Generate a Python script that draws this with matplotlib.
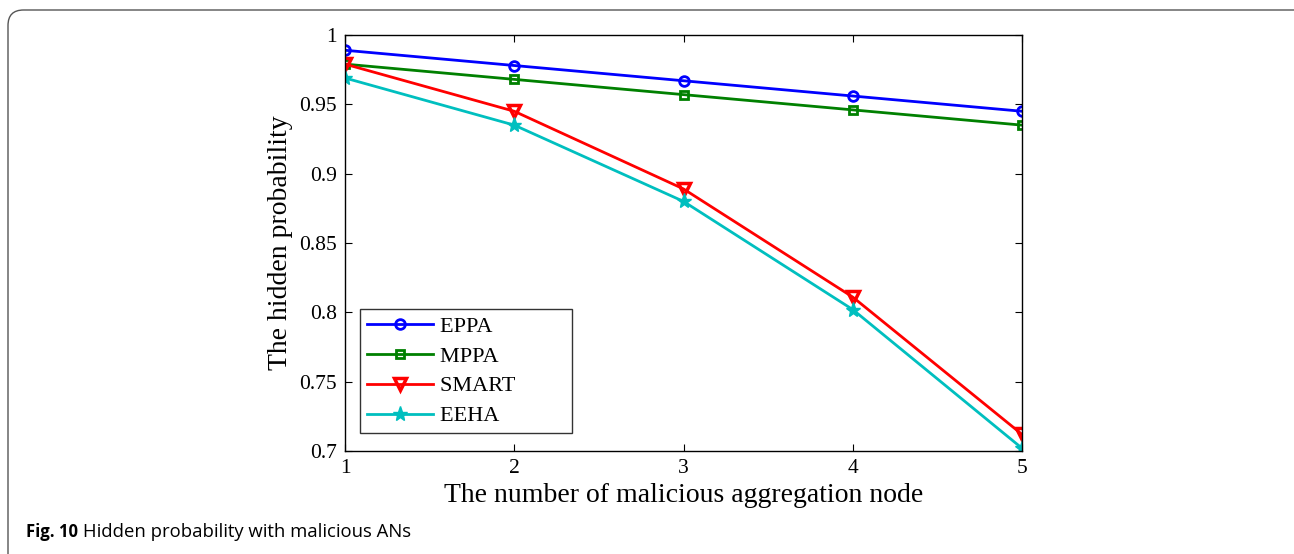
import matplotlib
matplotlib.use("Agg")
import matplotlib.pyplot as plt
from matplotlib.patches import FancyBboxPatch

# Data
x_nodes = [1, 2, 3, 4, 5]
eppa = [0.989, 0.978, 0.967, 0.956, 0.945]
mppa = [0.979, 0.968, 0.957, 0.946, 0.935]
smart = [0.979, 0.945, 0.889, 0.811, 0.712]
eeha = [0.969, 0.935, 0.880, 0.802, 0.702]
y_ticks = [0.7, 0.75, 0.8, 0.85, 0.9, 0.95, 1.0]
y_tick_labels = ["0.7", "0.75", "0.8", "0.85", "0.9", "0.95", "1"]

W, H = 1294, 554
fig = plt.figure(figsize=(W / 100, H / 100), dpi=100)

# rounded frame around the figure panel
frame = FancyBboxPatch((8 / W, -20 / H), (W + 10) / W, (H + 10) / H,
                       boxstyle="round,pad=0,rounding_size=0.012",
                       transform=fig.transFigure, fill=False,
                       edgecolor="#555555", linewidth=1.0, mutation_aspect=W / H)
fig.patches.append(frame)

ax = fig.add_axes([345 / W, 1 - 451 / H, (1022 - 345) / W, (451 - 35) / H])

serif = "Liberation Serif"
lw = 2.0
pad = " " * 9  # legend box in the original has blank room on the right
ax.plot(x_nodes, eppa, color="#0000ff", marker="o", ms=7, mfc="none", mew=2, lw=lw, label="EPPA" + pad)
ax.plot(x_nodes, mppa, color="#008000", marker="s", ms=6, mfc="none", mew=2, lw=lw, label="MPPA" + pad)
ax.plot(x_nodes, smart, color="#ff0000", marker="v", ms=9, mfc="none", mew=2.5, lw=lw, label="SMART" + pad)
ax.plot(x_nodes, eeha, color="#00bfbf", marker="*", ms=11, mew=1, lw=lw, label="EEHA" + pad)

ax.set_xlim(1, 5)
ax.set_ylim(0.7, 1.0)
ax.set_xticks(x_nodes)
ax.set_xticklabels([str(v) for v in x_nodes], fontfamily=serif, fontsize=15.5)
ax.set_yticks(y_ticks)
ax.set_yticklabels(y_tick_labels, fontfamily=serif, fontsize=15.5)
ax.tick_params(direction="in", length=5, width=0.8, top=True, right=True, pad=6)
for s in ax.spines.values():
    s.set_linewidth(1.0)

ax.set_xlabel("The number of malicious aggregation node", fontfamily=serif, fontsize=20, labelpad=3)
ax.set_ylabel("The hidden probability", fontfamily=serif, fontsize=20, labelpad=4)

leg = ax.legend(loc="lower left", bbox_to_anchor=(15 / 677, 18 / 416), prop={"family": serif, "size": 16},
                frameon=True, fancybox=False, edgecolor="black", handlelength=3.0,
                handletextpad=0.3, borderpad=0.3, labelspacing=0.42, borderaxespad=0)
leg.get_frame().set_linewidth(1.0)

fig.text(26 / W, 1 - 532 / H, "Fig. 10", fontfamily="Open Sans", fontweight="bold",
         fontsize=12, va="center", ha="left")
fig.text(83 / W, 1 - 532 / H, "Hidden probability with malicious ANs", fontfamily="Open Sans",
         fontsize=13.3, va="center", ha="left")

fig.savefig("out.png", dpi=100)
